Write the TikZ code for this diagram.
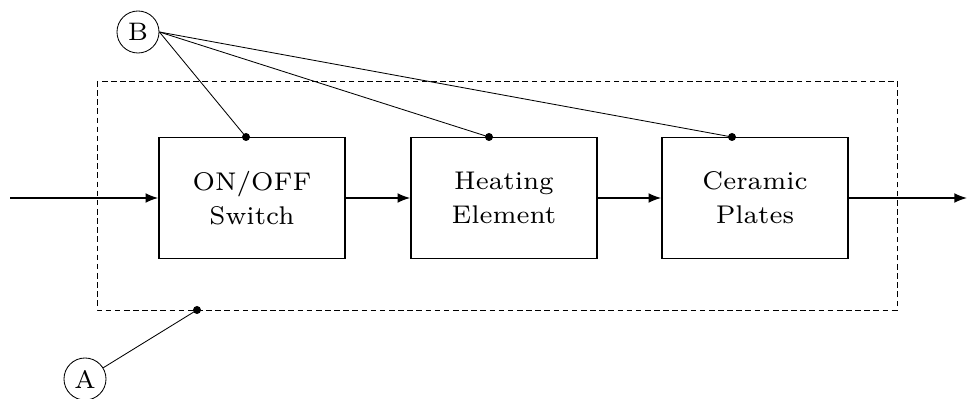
\documentclass[tikz,border=0pt]{standalone}
\usepackage{amsmath}
\usepackage{fontspec}
\newfontfamily\wideserif{lmroman7-regular.otf}
\usetikzlibrary{arrows.meta}

\begin{document}
\begin{tikzpicture}[x=0.025cm, y=-0.025cm,
    blk/.style={draw, line width=1.1pt, minimum width=4.65cm, minimum height=3.025cm, align=center, font=\wideserif\fontsize{18.2}{24}\selectfont},
    lbl/.style={draw, circle, line width=0.6pt, inner sep=0pt, minimum size=1.05cm, font=\wideserif\fontsize{18}{18}\selectfont},
    flow/.style={-{Latex[length=9pt,width=7pt]}, line width=1.1pt}]
            \useasboundingbox (0,0) rectangle (967,399);
            \draw[dash pattern=on 4pt off 2.5pt, line width=0.6pt] (97,81) rectangle (897,310);
            \node[blk] (sw) at (252,198) {ON/OFF\\Switch};
            \node[blk] (heat) at (504,198) {Heating\\Element};
            \node[blk] (plates) at (755,198) {Ceramic\\Plates};
            \coordinate (in) at (10,198);
            \coordinate (out) at (967,198);
            \draw[flow] (in) -- (sw.west);
            \draw[flow] (sw.east) -- (heat.west);
            \draw[flow] (heat.east) -- (plates.west);
            \draw[flow] (plates.east) -- (out);
            \node[lbl] (B) at (138,32) {B};
            \node[lbl] (A) at (85,379) {A};
            \coordinate (d1) at (246,137);
            \coordinate (d2) at (489,137);
            \coordinate (d3) at (732,137);
            \coordinate (d4) at (197,310);
            \foreach \d in {d1,d2,d3} {
                \draw[line width=0.6pt] (B.east) -- (\d);
                \fill (\d) circle (0.1cm);
            }
            \draw[line width=0.6pt] (A) -- (d4);
            \fill (d4) circle (0.1cm);
        \end{tikzpicture}
\end{document}
